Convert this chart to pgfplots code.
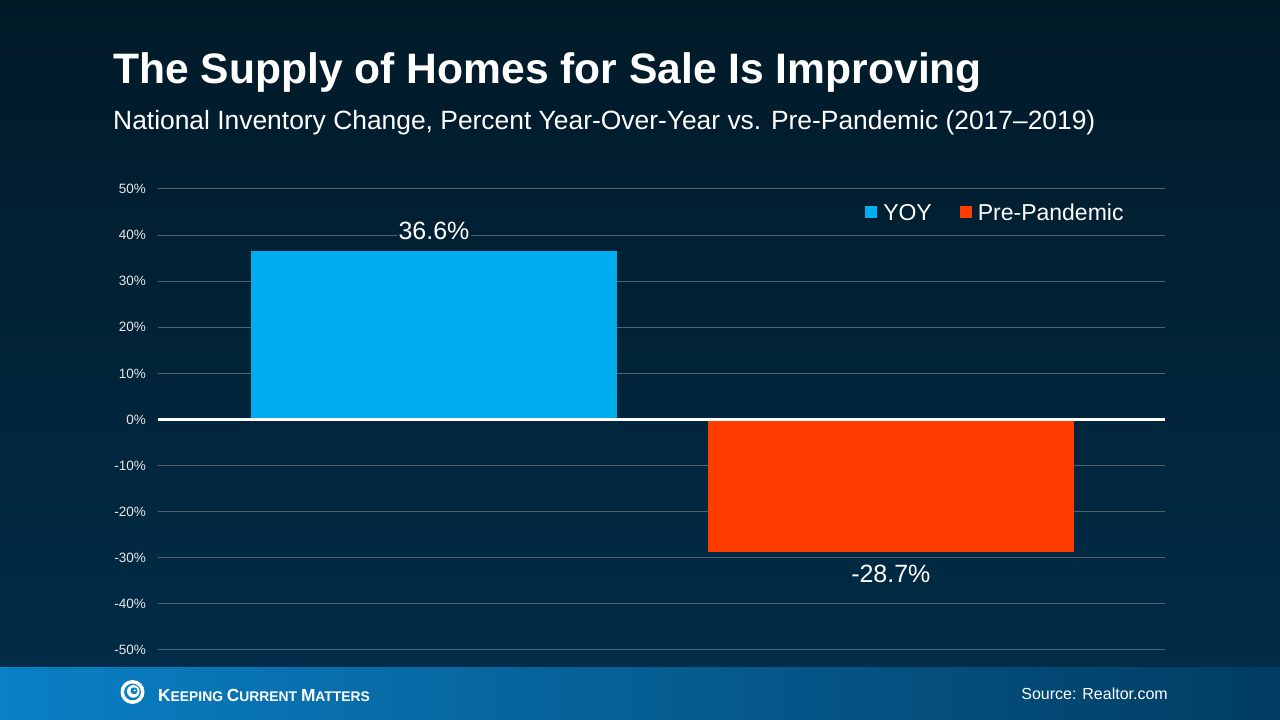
\documentclass[border=0pt]{standalone}
\usepackage{pgfplots}
\pgfplotsset{compat=1.18}
\usepackage{fontspec}
\setmainfont{Liberation Sans}
\definecolor{bgtop}{HTML}{011A28}
\definecolor{bgbot}{HTML}{022C47}
\definecolor{yoy}{HTML}{00AEEF}
\definecolor{pre}{HTML}{FF3D00}
\definecolor{gridc}{HTML}{56626B}
\definecolor{footL}{HTML}{0A80C6}
\definecolor{footR}{HTML}{013C62}
\definecolor{tickc}{HTML}{E8E8E8}
\begin{document}
\begin{tikzpicture}[x=1pt,y=1pt]
\shade[top color=bgtop, bottom color=bgbot] (0,52) rectangle (1280,720);
\shade[left color=footL, right color=footR] (0,0) rectangle (1280,52);
\node[anchor=base west, inner sep=0, text=white, font=\fontsize{42.6}{42.6}\selectfont\bfseries] at (113,636) {The Supply of Homes for Sale Is Improving};
\node[anchor=base west, inner sep=0, text=white, font=\fontsize{26.4}{26.4}\selectfont] at (113,590) {National Inventory Change, Percent Year-Over-Year vs. Pre-Pandemic (2017--2019)};
% logo
\fill[white] (132.5,28) circle (12);
\fill[footL] (132.5,28) circle (8.4);
\fill[white] (133.3,28.6) circle (6.3);
\fill[footL] (134,29.2) circle (3.5);
\fill[white] (134.6,29.6) circle (1.2);
\node[anchor=base west, inner sep=0, text=white, font=\bfseries] at (158,18.3) {\scalebox{0.99}[1]{\fontsize{17.5}{17.5}\selectfont K\fontsize{14}{14}\selectfont EEPING \fontsize{17.5}{17.5}\selectfont C\fontsize{14}{14}\selectfont URRENT \fontsize{17.5}{17.5}\selectfont M\fontsize{14}{14}\selectfont ATTERS}};
\node[anchor=base east, inner sep=0, text=white, font=\fontsize{16}{16}\selectfont] at (1168,20) {Source: Realtor.com};
\begin{axis}[
  at={(158pt,70pt)}, anchor=south west,
  width=1007pt, height=461pt, scale only axis,
  xmin=-0.604, xmax=1.6, ymin=-50, ymax=50,
  /pgf/number format/assume math mode=true,
  axis line style={draw=none},
  xtick=\empty,
  ytick={-50,-40,...,50},
  major tick length=0pt,
  ymajorgrids, grid style={gridc, line width=1pt},
  yticklabel={\pgfmathprintnumber{\tick}\%},
  yticklabel style={anchor=east, inner sep=0pt, xshift=-12pt, text=tickc, font=\fontsize{13.5}{13.5}\selectfont},
  legend columns=2,
  legend style={at={(0.964,0.948)}, anchor=east, draw=none, fill=none, text=white,
    font=\fontsize{23}{23}\selectfont, /tikz/every even column/.append style={column sep=26pt}},
  legend image code/.code={\fill[#1,draw=none] (0pt,-5pt) rectangle (12pt,7pt);},
  nodes near coords={\pgfmathprintnumber[fixed,precision=1,fixed zerofill]{\pgfplotspointmeta}\%},
  every node near coord/.append style={text=white, font=\fontsize{25}{25}\selectfont, inner sep=2pt},
]
\addplot[ybar, bar width=0.8, bar shift=0pt, fill=yoy, draw=none,
  every node near coord/.append style={fill=bgtop!65!bgbot, yshift=9pt}] coordinates {(0,36.6)};
\addlegendentry{\hspace{4pt}YOY}
\addplot[ybar, bar width=0.8, bar shift=0pt, fill=pre, draw=none,
  every node near coord/.append style={fill=bgtop!15!bgbot, yshift=-11pt}] coordinates {(1,-28.7)};
\addlegendentry{\hspace{4pt}Pre-Pandemic}
\draw[white, line width=2.5pt] (axis cs:-0.604,0) -- (axis cs:1.6,0);
\end{axis}
\end{tikzpicture}
\end{document}
